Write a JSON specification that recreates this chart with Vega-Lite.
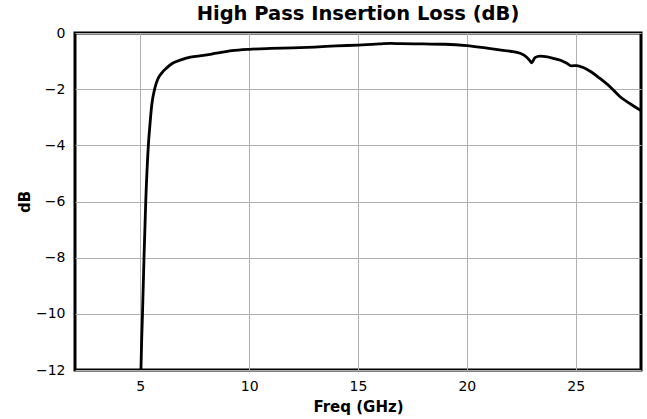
{
  "$schema": "https://vega.github.io/schema/vega-lite/v6.json",
  "autosize": {"type": "none"},
  "width": 566,
  "height": 337,
  "padding": {"left": 75, "top": 33, "right": 6, "bottom": 49},
  "background": "white",
  "title": {"text": "High Pass Insertion Loss (dB)", "font": "DejaVu Sans", "fontSize": 19.5, "fontWeight": "bold", "color": "black", "offset": 2},
  "config": {
    "view": {"stroke": "black", "strokeWidth": 3},
    "axis": {"labelFont": "DejaVu Sans", "labelFontSize": 14, "labelColor": "black", "titleFont": "DejaVu Sans", "titleFontSize": 15, "titleFontWeight": "bold", "titleColor": "black", "gridColor": "#b0b0b0", "gridWidth": 1, "gridOpacity": 1, "domain": false, "ticks": false}
  },
  "data": {"values": [
    {"f": 5.02, "db": -12.3}, {"f": 5.06, "db": -11}, {"f": 5.1, "db": -10}, {"f": 5.17, "db": -8},
    {"f": 5.25, "db": -6}, {"f": 5.37, "db": -4}, {"f": 5.45, "db": -3.2}, {"f": 5.52, "db": -2.6},
    {"f": 5.67, "db": -1.96}, {"f": 5.8, "db": -1.65}, {"f": 5.98, "db": -1.43}, {"f": 6.2, "db": -1.25},
    {"f": 6.5, "db": -1.07}, {"f": 6.9, "db": -0.95}, {"f": 7.3, "db": -0.86}, {"f": 7.9, "db": -0.8},
    {"f": 8.5, "db": -0.72}, {"f": 9.2, "db": -0.63}, {"f": 10.0, "db": -0.58}, {"f": 11, "db": -0.55},
    {"f": 12, "db": -0.53}, {"f": 13, "db": -0.5}, {"f": 14, "db": -0.46}, {"f": 15, "db": -0.43},
    {"f": 16, "db": -0.39}, {"f": 16.5, "db": -0.37}, {"f": 17, "db": -0.38}, {"f": 18, "db": -0.39},
    {"f": 19, "db": -0.4}, {"f": 20, "db": -0.45}, {"f": 21, "db": -0.55}, {"f": 21.5, "db": -0.6},
    {"f": 22.0, "db": -0.65}, {"f": 22.44, "db": -0.72}, {"f": 22.75, "db": -0.86}, {"f": 22.9, "db": -0.99},
    {"f": 22.98, "db": -1.06}, {"f": 23.05, "db": -0.98}, {"f": 23.13, "db": -0.88}, {"f": 23.36, "db": -0.82},
    {"f": 23.7, "db": -0.85}, {"f": 23.96, "db": -0.9}, {"f": 24.3, "db": -0.97}, {"f": 24.59, "db": -1.08},
    {"f": 24.8, "db": -1.17}, {"f": 25.05, "db": -1.16}, {"f": 25.35, "db": -1.23}, {"f": 25.7, "db": -1.38},
    {"f": 26.1, "db": -1.61}, {"f": 26.6, "db": -1.93}, {"f": 27.04, "db": -2.27}, {"f": 27.5, "db": -2.52},
    {"f": 28.0, "db": -2.76}
  ]},
  "mark": {"type": "line", "color": "black", "strokeWidth": 2.8, "interpolate": "monotone", "clip": true},
  "encoding": {
    "x": {"field": "f", "type": "quantitative", "title": "Freq (GHz)", "scale": {"domain": [2, 28], "nice": false, "zero": false}, "axis": {"values": [5, 10, 15, 20, 25], "labelPadding": 9, "titlePadding": 6}},
    "y": {"field": "db", "type": "quantitative", "title": "dB", "scale": {"domain": [-12, 0], "nice": false}, "axis": {"values": [0, -2, -4, -6, -8, -10, -12], "labelPadding": 10, "titlePadding": 3}}
  }
}
